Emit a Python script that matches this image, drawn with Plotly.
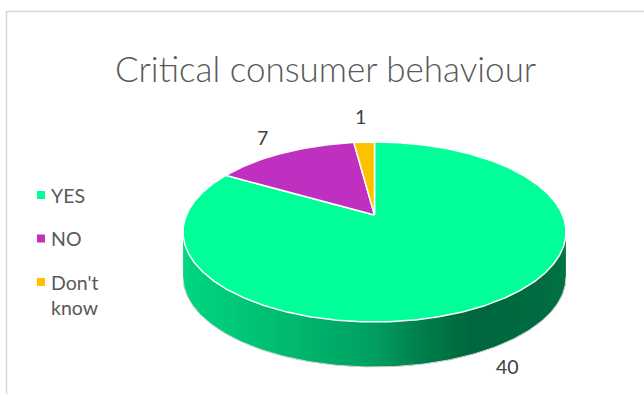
import numpy as np
import plotly.graph_objects as go

# ---- data -------------------------------------------------------------
categories = ["YES", "NO", "Don't know"]
legend_labels = ["YES", "NO", "Don't<br>know"]
values = [40, 7, 1]
colors = ["#00FF99", "#C030C0", "#FFC000"]
title_text = "Critical consumer behaviour"

# ---- canvas / pie geometry (pixel space) ------------------------------
W, H = 644, 394
CX = 374.5        # horizontal centre of the top face
TOP_Y = 142.0     # far rim of the top face
NEAR_Y = 322.0    # near rim of the top face
RX = 191.5        # half width of the top face
THICK = 45.0      # depth of the extruded side
TILT = np.radians(30.0)
DIST = 4.58       # camera distance (perspective strength)
LABEL_GAP = 26.0

FONT = "Lato"
TEXT_GREY = "#595959"


def raw_project(phi_deg, r=1.0):
    """Perspective projection of a point on the pie's top plane.
    phi is measured clockwise from 12 o'clock (the far side)."""
    p = np.radians(phi_deg)
    x = r * np.sin(p)
    z = -r * np.cos(p)            # positive towards the viewer
    depth = DIST - z * np.cos(TILT)
    return x / depth, z * np.sin(TILT) / depth


_grid = np.linspace(0, 360, 3601)
_sx, _sy = raw_project(_grid)
KX = RX / _sx.max()
KY = (NEAR_Y - TOP_Y) / (_sy.max() - _sy.min())
Y0 = TOP_Y - _sy.min() * KY


def project(phi_deg, r=1.0, drop=0.0):
    sx, sy = raw_project(phi_deg, r)
    return CX + sx * KX, Y0 + sy * KY + drop


def shade(hex_color, f):
    h = hex_color.lstrip("#")
    rgb = [int(h[i:i + 2], 16) for i in (0, 2, 4)]
    return "rgb({},{},{})".format(*[int(round(c * f)) for c in rgb])


# angular extent of each slice (Excel style: start at 12 o'clock, clockwise)
total = float(sum(values))
bounds = np.concatenate([[0.0], np.cumsum(values) / total * 360.0])

# the side is visible between the two horizontal silhouette points
phi_right = np.degrees(np.arccos(-np.cos(TILT) / DIST))
phi_left = 360.0 - phi_right
x_min, _ = project(phi_left)
x_max, _ = project(phi_right)

fig = go.Figure()

# ---- extruded side, shaded with a left-to-right light falloff ---------
shade_t = [0.0, 0.3, 0.5, 0.62, 0.75, 0.93, 1.0]
shade_f = [0.84, 0.72, 0.62, 0.50, 0.40, 0.42, 0.45]
for i, col in enumerate(colors):
    a0 = max(bounds[i], phi_right)
    a1 = min(bounds[i + 1], phi_left)
    if a1 <= a0:
        continue
    n = max(2, int((a1 - a0) / 1.0))
    edges = np.linspace(a0, a1, n + 1)
    for k in range(n):
        # each band reaches into its neighbour so no seams show between fills
        hi = edges[min(k + 2, n)]
        ph = np.linspace(edges[k], hi, 6)
        tx, ty = project(ph)
        bx, by = project(ph[::-1], drop=THICK)
        xs = np.concatenate([tx, bx, tx[:1]])
        ys = np.concatenate([ty, by, ty[:1]])
        xm, _ = project((edges[k] + edges[k + 1]) / 2)
        t = (xm - x_min) / (x_max - x_min)
        c = shade(col, np.interp(t, shade_t, shade_f))
        fig.add_trace(go.Scatter(
            x=xs, y=ys, mode="lines", fill="toself", fillcolor=c,
            line=dict(width=0), hoverinfo="skip", showlegend=False))

# faint outline along the bottom of the side
ph = np.linspace(phi_right, phi_left, 200)
bx, by = project(ph, drop=THICK)
fig.add_trace(go.Scatter(x=bx, y=by, mode="lines",
                         line=dict(color="#D6D6D6", width=1),
                         hoverinfo="skip", showlegend=False))

# ---- top faces ------------------------------------------------------
apex_x, apex_y = project(0.0, r=0.0)
for i, (cat, col) in enumerate(zip(categories, colors)):
    ph = np.linspace(bounds[i], bounds[i + 1], max(3, int(bounds[i + 1] - bounds[i]) * 2))
    ax_, ay_ = project(ph)
    xs = np.concatenate([[apex_x], ax_, [apex_x]])
    ys = np.concatenate([[apex_y], ay_, [apex_y]])
    fig.add_trace(go.Scatter(
        x=xs, y=ys, mode="lines", fill="toself", fillcolor=col,
        line=dict(color="white", width=1.5), name=cat,
        hoverinfo="name", showlegend=False))

# ---- data labels ----------------------------------------------------
annotations = []
for i, v in enumerate(values):
    mid = (bounds[i] + bounds[i + 1]) / 2
    rx_, ry_ = project(mid)
    dx, dy = rx_ - apex_x, ry_ - apex_y
    norm = np.hypot(dx, dy)
    drop = THICK if phi_right < mid < phi_left else 0.0
    lx = rx_ + dx / norm * LABEL_GAP
    ly = ry_ + drop + dy / norm * LABEL_GAP
    annotations.append(dict(
        x=lx, y=ly, xref="x", yref="y", text=str(v), showarrow=False,
        font=dict(family=FONT, size=19.5, color="#404040"),
        xanchor="center", yanchor="middle"))

# ---- legend (square swatch + label) ---------------------------------
LEG_X = 41
LEG_Y0 = 195
LEG_STEP = 43.5
leg_y = [LEG_Y0 + LEG_STEP * i for i in range(len(categories))]
fig.add_trace(go.Scatter(
    x=[LEG_X] * len(categories), y=leg_y, mode="markers",
    marker=dict(symbol="square", size=8, color=colors),
    hoverinfo="skip", showlegend=False))
for lbl, y in zip(legend_labels, leg_y):
    annotations.append(dict(
        x=LEG_X + 8, y=y - 13.5, xref="x", yref="y", text=lbl,
        showarrow=False, align="left", xanchor="left", yanchor="top",
        font=dict(family=FONT, size=19.5, color=TEXT_GREY)))

# ---- title ----------------------------------------------------------
annotations.append(dict(
    x=325, y=68, xref="x", yref="y", text=title_text, showarrow=False,
    xanchor="center", yanchor="middle",
    font=dict(family=FONT, size=35, color=TEXT_GREY, weight=300)))

fig.update_layout(
    width=W, height=H,
    margin=dict(l=0, r=0, t=0, b=0),
    paper_bgcolor="white", plot_bgcolor="white",
    xaxis=dict(range=[0, W], visible=False, fixedrange=True),
    yaxis=dict(range=[H, 0], visible=False, fixedrange=True),
    annotations=annotations,
    shapes=[dict(type="path", xref="x", yref="y",
                 path="M 6.5 {} L 6.5 11.5 L {} 11.5".format(H + 5, W + 5),
                 line=dict(color="#D9D9D9", width=1.5))],
)

fig.write_html("out.html")
